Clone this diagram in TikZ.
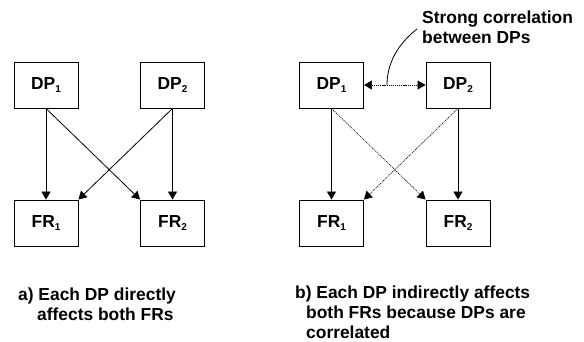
\documentclass[tikz,border=0pt]{standalone}
\usepackage{fontspec}
\setmainfont{Liberation Sans}
\usetikzlibrary{arrows.meta}
\newcommand{\lowidx}[1]{\raisebox{-0.4ex}{\fontsize{10}{10}\selectfont #1}}
\tikzset{
  box/.style={draw, line width=0.9pt, minimum width=64pt, minimum height=46pt, inner sep=0pt, font=\fontsize{17.4}{20}\selectfont\bfseries},
  link/.style={line width=0.8pt, -{Triangle[length=8pt,width=9pt]}},
  weaklink/.style={line width=0.6pt, dash pattern=on 1.2pt off 0.9pt, -{Triangle[length=8pt,width=9pt]}},
  caption/.style={align=left, anchor=north west, inner sep=0pt, font=\fontsize{17.4}{20}\selectfont\bfseries}
}
\begin{document}
\begin{tikzpicture}[x=1pt, y=-1pt]
        \useasboundingbox (0,0) rectangle (584,342);

        % a) direct case
        \node[box] (dpa1) at (46,85) {DP\lowidx{1}};
        \node[box] (dpa2) at (172.5,85) {DP\lowidx{2}};
        \node[box] (fra1) at (46,223) {FR\lowidx{1}};
        \node[box] (fra2) at (172.5,223) {FR\lowidx{2}};

        \draw[link] (dpa1.south) -- (fra1.north);
        \draw[link] (dpa1.south) -- (fra2.north west);
        \draw[link] (dpa2.south) -- (fra2.north);
        \draw[link] (dpa2.south) -- (fra1.north east);

        \node[caption] (capa) at (18,288) {a) Each DP directly\\\hspace*{19pt}affects both FRs};

        % b) correlated case
        \node[box] (dpb1) at (331.5,85) {DP\lowidx{1}};
        \node[box] (dpb2) at (458,85) {DP\lowidx{2}};
        \node[box] (frb1) at (331.5,223) {FR\lowidx{1}};
        \node[box] (frb2) at (458,223) {FR\lowidx{2}};

        \draw[link] (dpb1.south) -- (frb1.north);
        \draw[weaklink] (dpb1.south) -- (frb2.north west);
        \draw[link] (dpb2.south) -- (frb2.north);
        \draw[weaklink] (dpb2.south) -- (frb1.north east);
        \draw[weaklink, {Triangle[length=8pt,width=9pt]}-{Triangle[length=8pt,width=9pt]}] (dpb1.east) -- (dpb2.west);

        % note on the correlation
        \node[caption] (corr) at (422,11) {Strong correlation\\between DPs};
        \coordinate (corrstart) at (417,29);
        \coordinate (corrend) at (387,85);
        \draw[line width=0.8pt] (corrstart) .. controls (398,44) and (387,63) .. (corrend);

        \node[caption] (capb) at (295,286) {b) Each DP indirectly affects\\\hspace*{11pt}both FRs because DPs are\\\hspace*{11pt}correlated};
    \end{tikzpicture}
\end{document}
